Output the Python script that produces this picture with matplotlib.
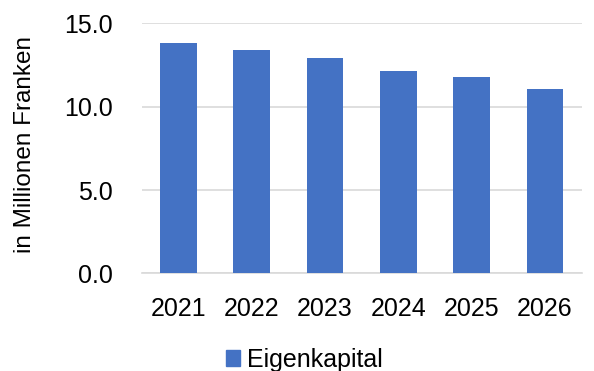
import matplotlib.pyplot as plt
from matplotlib.patches import Patch

plt.rcParams['font.family'] = ['Liberation Sans', 'DejaVu Sans']

years = ['2021', '2022', '2023', '2024', '2025', '2026']
eigenkapital = [13.82, 13.38, 12.94, 12.14, 11.78, 11.06]
yticks = [0.0, 5.0, 10.0, 15.0]

fig = plt.figure(figsize=(5.94, 3.71), dpi=100)
ax = fig.add_axes([0.2386, 0.2633, 0.7407, 0.6737])

x = range(len(years))
ax.bar(x, eigenkapital, width=0.5, color='#4472C4', zorder=3)

ax.set_xlim(-0.5, len(years) - 0.5)
ax.set_ylim(0, 15)
ax.set_yticks(yticks)
ax.set_yticklabels(['%.1f' % v for v in yticks])
ax.set_xticks(list(x))
ax.set_xticklabels(years)
ax.tick_params(axis='both', length=0, labelsize=18, colors='black')
ax.tick_params(axis='x', pad=17)
ax.tick_params(axis='y', pad=21)
ax.grid(axis='y', color='#d9d9d9', linewidth=1.2, zorder=0)
for s in ['top', 'right', 'left']:
    ax.spines[s].set_visible(False)
ax.spines['bottom'].set_color('#d9d9d9')
ax.spines['bottom'].set_linewidth(1.2)

ax.set_ylabel('in Millionen Franken', fontsize=17.5)
ax.yaxis.set_label_coords(-0.24, 0.515)

handles = [Patch(color='#4472C4', label='Eigenkapital')]
fig.legend(handles=handles, loc='center', bbox_to_anchor=(0.513, 0.03),
           frameon=False, fontsize=18, handlelength=0.55, handleheight=0.55,
           handletextpad=0.3, borderpad=0)

fig.savefig('out.png', dpi=100)
